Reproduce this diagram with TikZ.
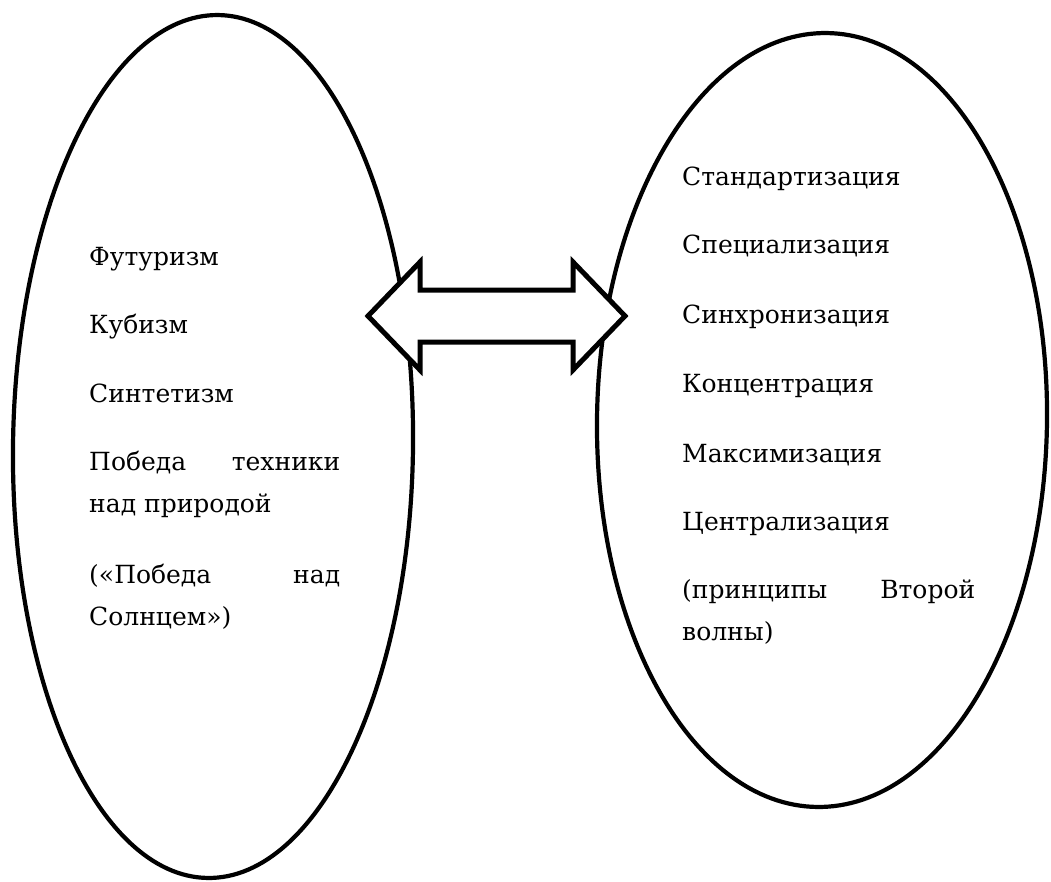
\documentclass[tikz,border=0pt]{standalone}
\usepackage{fontspec}
\newfontfamily\tnrfont{DejaVu Serif}
\begin{document}
\begin{tikzpicture}[x=1pt,y=-1pt,
  oval/.style={draw=black,line width=4.2pt},
  dblarrow/.style={draw=black,fill=white,line width=5pt,line join=miter},
  txt/.style={anchor=base west,inner sep=0pt,font=\tnrfont\fontsize{25}{42}\selectfont},
  jline/.style={txt,text width=#1,align=left}]
\useasboundingbox (0,0) rectangle (1051,881);
\fill[white] (0,0) rectangle (1051,881);
% ovals
\draw[oval,rotate around={-0.7:(213,446.5)}] (213,446.5) ellipse [x radius=200pt,y radius=431.5pt];
\draw[oval,rotate around={-0.74:(822,420)}] (822,420) ellipse [x radius=225pt,y radius=387pt];
% double arrow
\coordinate (tipL) at (368,316);
\coordinate (tipR) at (625,316);
\draw[dblarrow] (tipL) -- (420,262) -- (420,290) -- (573,290) -- (573,262) -- (tipR)
  -- (573,370) -- (573,342) -- (420,342) -- (420,370) -- cycle;
% left texts
\node[txt] (l1) at (89,265) {Футуризм};
\node[txt] (l2) at (89,333) {Кубизм};
\node[txt] (l3) at (89,402) {Синтетизм};
\node[jline=251pt] (l4a) at (89,470) {Победа\hfill техники};
\node[txt] (l4b) at (89,512) {над природой};
\node[jline=251pt] (l5a) at (89,583) {(«Победа\hfill над};
\node[txt] (l5b) at (89,625) {Солнцем»)};
% right texts
\node[txt] (r1) at (682,185) {Стандартизация};
\node[txt] (r2) at (682,253) {Специализация};
\node[txt] (r3) at (682,323) {Синхронизация};
\node[txt] (r4) at (682,392) {Концентрация};
\node[txt] (r5) at (682,462) {Максимизация};
\node[txt] (r6) at (682,530) {Централизация};
\node[jline=293pt] (r7a) at (682,598) {(принципы\hfill Второй};
\node[txt] (r7b) at (682,640) {волны)};
\end{tikzpicture}
\end{document}
